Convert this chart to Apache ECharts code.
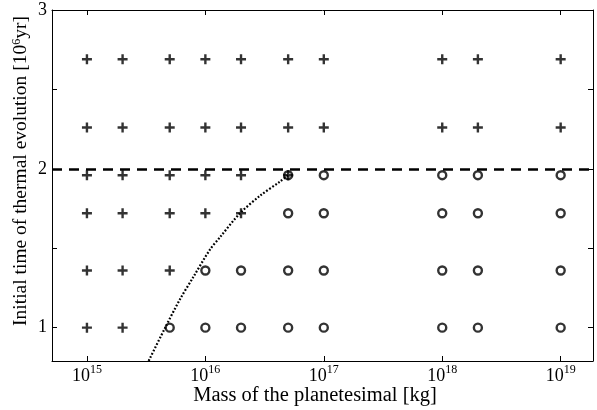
<!DOCTYPE html>
<html>
<head>
<meta charset="utf-8">
<script src="https://cdn.jsdelivr.net/npm/echarts@6/dist/echarts.min.js"></script>
<style>html,body{margin:0;padding:0;background:#fff}#c{width:597px;height:410px}</style>
</head>
<body>
<div id="c"></div>
<script>
// ---- data ----
const masses = [1e15, 2e15, 5e15, 1e16, 2e16, 5e16, 1e17, 1e18, 2e18, 1e19]; // kg
const rowTimes = [1.0, 1.36, 1.72, 1.96, 2.26, 2.69];                        // 10^6 yr
const plusCountPerRow = [2, 3, 5, 6, 10, 10];   // first N masses of each row are "+"
const circleStartPerRow = [2, 3, 5, 5, 10, 10]; // masses from this index on are "o"
const curveMass = [3.32e15, 3.42e15, 4.58e15, 6.12e15, 7.93e15, 1.09e16, 1.33e16, 1.96e16, 2.89e16, 4.27e16, 5.0e16];
const curveTime = [0.79, 0.81, 1.00, 1.18, 1.32, 1.49, 1.57, 1.72, 1.83, 1.92, 1.96];
const thresholdTime = 2;
const yTickValues = [1, 1.5, 2, 2.5, 3];
const yLabelValues = [1, 2, 3];
const xMin = Math.pow(10, 14.705), xMax = Math.pow(10, 19.273);
const yMin = 0.79, yMax = 3;

// ---- build ----
const plusData = [], circleData = [];
rowTimes.forEach((t, r) => {
  masses.forEach((m, i) => {
    if (i < plusCountPerRow[r]) plusData.push([m, t]);
    if (i >= circleStartPerRow[r]) circleData.push([m, t]);
  });
});
const curveData = curveMass.map((m, i) => [m, curveTime[i]]);

const FONT = 'Liberation Serif';
const axisLine = { show: true, onZero: false, lineStyle: { color: '#000', width: 1 } };
const tickStyle = { show: true, inside: true, length: 5, lineStyle: { color: '#000', width: 1 } };

const chart = echarts.init(document.getElementById('c'), null, { renderer: 'canvas' });
chart.setOption({
  backgroundColor: '#fff',
  animation: false,
  grid: { left: 52, right: 4, top: 10, bottom: 49, containLabel: false },
  xAxis: [
    {
      type: 'log', logBase: 10, min: xMin, max: xMax, position: 'bottom',
      axisLine: axisLine,
      axisTick: tickStyle,
      minorTick: { show: false },
      splitLine: { show: false },
      axisLabel: {
        margin: 3, showMinLabel: false, showMaxLabel: false, color: '#000',
        fontFamily: FONT,
        formatter: v => '{b|10}{s|' + Math.round(Math.log10(v)) + '}',
        rich: {
          b: { fontSize: 18, fontFamily: FONT, color: '#000', lineHeight: 20, padding: [4, 0, 0, 0] },
          s: { fontSize: 12, fontFamily: FONT, color: '#000', verticalAlign: 'top', lineHeight: 11 }
        }
      }
    },
    {
      type: 'log', logBase: 10, min: xMin, max: xMax, position: 'top',
      axisLine: axisLine, axisTick: tickStyle, axisLabel: { show: false },
      splitLine: { show: false }
    }
  ],
  yAxis: [
    {
      type: 'value', min: yMin, max: yMax, position: 'left',
      axisLine: axisLine,
      axisTick: Object.assign({}, tickStyle, { customValues: yTickValues }),
      splitLine: { show: false },
      axisLabel: { customValues: yLabelValues, margin: 5, color: '#000', fontFamily: FONT, fontSize: 18 }
    },
    {
      type: 'value', min: yMin, max: yMax, position: 'right',
      axisLine: axisLine,
      axisTick: Object.assign({}, tickStyle, { customValues: yTickValues }),
      splitLine: { show: false },
      axisLabel: { show: false }
    }
  ],
  graphic: [
    {
      type: 'text', x: 315, y: 396,
      style: { text: 'Mass of the planetesimal [kg]', fontFamily: FONT, fontSize: 20.5, fill: '#000', align: 'center', verticalAlign: 'middle' }
    },
    {
      type: 'text', x: 21, y: 171, rotation: Math.PI / 2,
      style: {
        text: 'Initial time of thermal evolution [10{s|6}yr]', fontFamily: FONT, fontSize: 19.5, fill: '#000',
        align: 'center', verticalAlign: 'middle',
        rich: { s: { fontSize: 12, fontFamily: FONT, fill: '#000', verticalAlign: 'top', lineHeight: 11 } }
      }
    }
  ],
  series: [
    {
      type: 'line', data: curveData, smooth: 0.3, symbol: 'none', z: 2,
      lineStyle: { color: '#000', width: 2.2, type: [1.8, 1.8] },
      markLine: {
        silent: true, symbol: 'none', label: { show: false },
        lineStyle: { color: '#000', width: 2.5, type: [10, 7] },
        data: [{ yAxis: thresholdTime }]
      }
    },
    {
      type: 'scatter', data: circleData, symbol: 'circle', symbolSize: 8, z: 3,
      itemStyle: { color: 'rgba(0,0,0,0)', borderColor: '#000', borderWidth: 2.4 }
    },
    {
      type: 'scatter', data: plusData, symbol: 'path://M0,5L10,5M5,0L5,10', symbolSize: 10, z: 4,
      itemStyle: { color: 'rgba(0,0,0,0)', borderColor: '#000', borderWidth: 2.4 }
    }
  ]
});
</script>
</body>
</html>
